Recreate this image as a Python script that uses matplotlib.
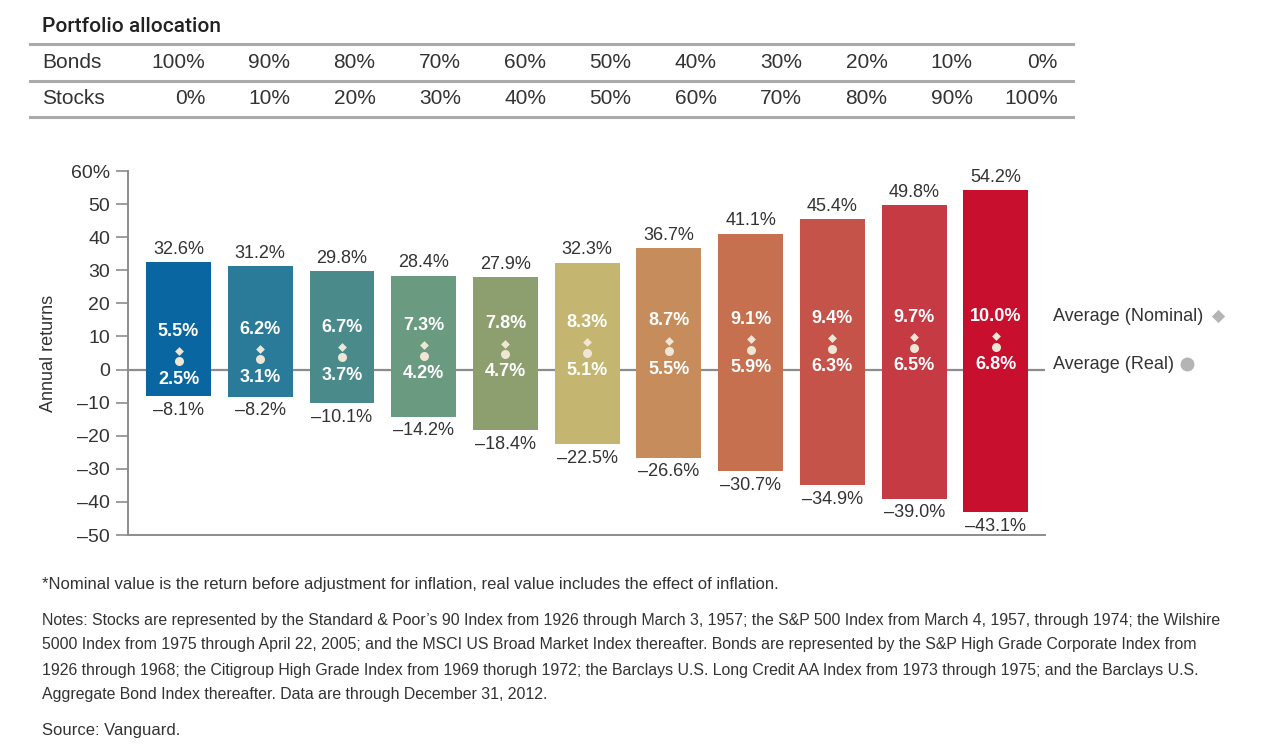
import matplotlib
matplotlib.use("Agg")
import matplotlib.pyplot as plt
from matplotlib.lines import Line2D
import numpy as np

plt.rcParams['font.family'] = ['Liberation Sans', 'DejaVu Sans']

# data
bonds = ['100%', '90%', '80%', '70%', '60%', '50%', '40%', '30%', '20%', '10%', '0%']
stocks = ['0%', '10%', '20%', '30%', '40%', '50%', '60%', '70%', '80%', '90%', '100%']
best = [32.6, 31.2, 29.8, 28.4, 27.9, 32.3, 36.7, 41.1, 45.4, 49.8, 54.2]
worst = [-8.1, -8.2, -10.1, -14.2, -18.4, -22.5, -26.6, -30.7, -34.9, -39.0, -43.1]
nominal = [5.5, 6.2, 6.7, 7.3, 7.8, 8.3, 8.7, 9.1, 9.4, 9.7, 10.0]
real = [2.5, 3.1, 3.7, 4.2, 4.7, 5.1, 5.5, 5.9, 6.3, 6.5, 6.8]
colors = ['#0a66a0', '#2a7b99', '#4a8a8b', '#6a9a80', '#8d9f6e', '#c4b570',
          '#c68c5b', '#c6704f', '#c6534a', '#c63b43', '#c8102e']
yticks = [60, 50, 40, 30, 20, 10, 0, -10, -20, -30, -40, -50]

notes = [
    "*Nominal value is the return before adjustment for inflation, real value includes the effect of inflation.",
    "Notes: Stocks are represented by the Standard & Poor\u2019s 90 Index from 1926 through March 3, 1957; the S&P 500 Index from March 4, 1957, through 1974; the Wilshire",
    "5000 Index from 1975 through April 22, 2005; and the MSCI US Broad Market Index thereafter. Bonds are represented by the S&P High Grade Corporate Index from",
    "1926 through 1968; the Citigroup High Grade Index from 1969 thorugh 1972; the Barclays U.S. Long Credit AA Index from 1973 through 1975; and the Barclays U.S.",
    "Aggregate Bond Index thereafter. Data are through December 31, 2012.",
]
source = "Source: Vanguard."

W, H = 1266, 750
txt = '#333333'
grey = '#8c8c8c'


def fx(px):
    return px / W


def fy(py):
    return 1 - py / H


fig = plt.figure(figsize=(W / 100, H / 100), dpi=100)

# ---- allocation table ----
fig.text(fx(42), fy(27), 'Portfolio allocation', fontsize=15, color='#222222',
         family=['Roboto', 'Liberation Sans'], weight='medium', va='center')
for yy in [44, 81, 117]:
    fig.add_artist(Line2D([fx(30), fx(1073)], [fy(yy), fy(yy)], color='#aaaaaa', lw=2.2))
fig.text(fx(42), fy(63), 'Bonds', fontsize=15, color=txt, va='center')
fig.text(fx(42), fy(99), 'Stocks', fontsize=15, color=txt, va='center')
for i in range(len(bonds)):
    xr = 205 + 85.3 * i
    fig.text(fx(xr), fy(63), bonds[i], fontsize=15, color=txt, va='center', ha='right')
    fig.text(fx(xr), fy(99), stocks[i], fontsize=15, color=txt, va='center', ha='right')

# ---- bar chart ----
ax = fig.add_axes([fx(128), fy(535), fx(1045) - fx(128), fy(171) - fy(535)])
x = np.arange(len(best))
ax.axhline(0, color=grey, lw=1.6, zorder=1)
ax.bar(x, np.array(best) - np.array(worst), bottom=worst, width=0.795,
       color=colors, zorder=2)
ax.scatter(x, nominal, marker='D', s=20, color='#f0e6d6', zorder=3, linewidths=0)
ax.scatter(x, real, marker='o', s=42, color='#f0e6d6', zorder=3, linewidths=0)


def pct(v):
    return ('%.1f%%' % v).replace('-', '\u2013')


for i in x:
    ax.annotate(pct(best[i]), (i, best[i]), xytext=(0, 3), textcoords='offset points',
                ha='center', va='bottom', fontsize=13, color=txt)
    ax.annotate(pct(worst[i]), (i, worst[i]), xytext=(0, -4), textcoords='offset points',
                ha='center', va='top', fontsize=13, color=txt)
    ax.text(i, nominal[i] + 6, pct(nominal[i]), ha='center', va='center',
            fontsize=13, color='white', weight='bold', zorder=4)
    ax.text(i, real[i] - 5.4, pct(real[i]), ha='center', va='center',
            fontsize=13, color='white', weight='bold', zorder=4)

ax.set_xlim(-0.618, 10.6)
ax.set_ylim(-50, 60)
ax.set_xticks([])
ax.set_yticks(yticks)
ax.set_yticklabels(['60%'] + [str(t).replace('-', '\u2013') for t in yticks[1:]])
ax.tick_params(axis='y', length=9, width=1.2, color=grey, labelsize=14,
               labelcolor=txt, pad=4)
for s in ['top', 'right']:
    ax.spines[s].set_visible(False)
ax.spines['left'].set_color(grey)
ax.spines['bottom'].set_color(grey)
ax.spines['left'].set_linewidth(1.4)
ax.spines['bottom'].set_linewidth(1.4)
ax.set_ylabel('Annual returns', fontsize=13, color=txt, labelpad=10)

# legend on the right
ax.text(10.7, nominal[-1] + 6, 'Average (Nominal)', fontsize=13, color=txt,
        va='center', ha='left', clip_on=False)
ax.text(10.7, real[-1] - 5.4, 'Average (Real)', fontsize=13, color=txt,
        va='center', ha='left', clip_on=False)
ax.scatter([12.72], [nominal[-1] + 6.2], marker='D', s=45, color='#b4b4b4',
           clip_on=False, linewidths=0)
ax.scatter([12.34], [real[-1] - 5.2], marker='o', s=100, color='#b4b4b4',
           clip_on=False, linewidths=0)

# ---- footnotes ----
fig.text(fx(42), fy(585), notes[0], fontsize=12, color=txt, va='center')
note_texts = []
for k, line in enumerate(notes[1:]):
    note_texts.append(fig.text(fx(42), fy(620 + 25 * k), line, fontsize=12,
                               color=txt, va='center'))
fig.text(fx(42), fy(730), source, fontsize=12, color=txt, va='center')

# shrink the notes block so the longest line ends where the reference does
r = fig.canvas.get_renderer()
w = note_texts[0].get_window_extent(r).width
size = 12 * 1180 / w
for t in note_texts:
    t.set_fontsize(size)

fig.savefig('out.png', dpi=100)
